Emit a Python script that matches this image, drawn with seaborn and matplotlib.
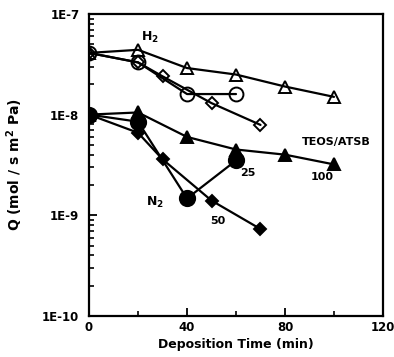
import numpy as np
import pandas as pd
import matplotlib
matplotlib.use("Agg")
import matplotlib.pyplot as plt
import seaborn as sns
from matplotlib.ticker import LogLocator, NullFormatter, FixedLocator

sns.set_style("ticks")
plt.rcParams['font.family'] = ['DejaVu Sans']
plt.rcParams['text.color'] = 'black'
plt.rcParams['axes.labelcolor'] = 'black'
plt.rcParams['xtick.color'] = 'black'
plt.rcParams['ytick.color'] = 'black'
plt.rcParams['axes.edgecolor'] = 'black'

# H2 (open markers)
h2_tri_t = [0, 20, 40, 60, 80, 100]
h2_tri_q = [4.1e-8, 4.4e-8, 2.9e-8, 2.5e-8, 1.9e-8, 1.5e-8]
h2_cir_t = [0, 20, 40, 60]
h2_cir_q = [4.1e-8, 3.3e-8, 1.6e-8, 1.6e-8]
h2_dia_t = [0, 20, 30, 50, 70]
h2_dia_q = [4.1e-8, 3.3e-8, 2.4e-8, 1.3e-8, 7.9e-9]

# N2 (filled markers)
n2_tri_t = [0, 20, 40, 60, 80, 100]
n2_tri_q = [1.0e-8, 1.05e-8, 6.0e-9, 4.5e-9, 4.0e-9, 3.2e-9]
n2_cir_t = [0, 20, 40, 60]
n2_cir_q = [1.0e-8, 8.5e-9, 1.47e-9, 3.5e-9]
n2_dia_t = [0, 20, 30, 50, 70]
n2_dia_q = [1.0e-8, 6.6e-9, 3.6e-9, 1.4e-9, 7.3e-10]

x_ticks = [0, 40, 80, 120]
y_ticks = [1e-10, 1e-9, 1e-8, 1e-7]
y_tick_labels = ["1E-10", "1E-9", "1E-8", "1E-7"]

fig = plt.figure(figsize=(3.94, 3.57), dpi=100)
ax = fig.add_axes([0.226, 0.115, 0.746, 0.846])

series = [
    (h2_tri_t, h2_tri_q, '^', 'none', 8),
    (h2_cir_t, h2_cir_q, 'o', 'none', 10),
    (h2_dia_t, h2_dia_q, 'D', 'none', 6.5),
    (n2_tri_t, n2_tri_q, '^', 'black', 8),
    (n2_cir_t, n2_cir_q, 'o', 'black', 11),
    (n2_dia_t, n2_dia_q, 'D', 'black', 6.5),
]
for t, q, m, fc, ms in series:
    df = pd.DataFrame({"t": t, "q": q})
    sns.lineplot(data=df, x="t", y="q", ax=ax, color="black", linewidth=1.6,
                 marker=m, markersize=ms, markerfacecolor=fc,
                 markeredgecolor="black", markeredgewidth=1.4, sort=False)

ax.set_yscale("log")
ax.set_xlim(0, 120)
ax.set_ylim(1e-10, 1e-7)
ax.xaxis.set_major_locator(FixedLocator(x_ticks))
ax.xaxis.set_minor_locator(FixedLocator([20, 60, 100]))
ax.set_yticks(y_ticks)
ax.set_yticklabels(y_tick_labels)
ax.yaxis.set_minor_locator(LogLocator(base=10, subs=np.arange(2, 10)))
ax.yaxis.set_minor_formatter(NullFormatter())
ax.set_xticklabels([str(v) for v in x_ticks])
ax.tick_params(axis='both', which='major', direction='in', length=6, width=1.3,
               labelsize=8.5)
ax.tick_params(axis='y', which='major', pad=7)
ax.tick_params(axis='both', which='minor', direction='in', length=3.5, width=1.2)
for lab in ax.get_xticklabels() + ax.get_yticklabels():
    lab.set_fontweight('bold')
for s in ax.spines.values():
    s.set_linewidth(1.6)
    s.set_visible(True)

ax.set_xlabel("Deposition Time (min)", fontsize=9, fontweight='bold', labelpad=3)
ax.set_ylabel("Q (mol / s m$^\\mathbf{2}$ Pa)", fontsize=10, fontweight='bold', labelpad=12)

ax.text(25, 5.8e-8, "H$_\\mathbf{2}$", fontsize=9, fontweight='bold', ha='center', va='center')
ax.text(27, 1.35e-9, "N$_\\mathbf{2}$", fontsize=9, fontweight='bold', ha='center', va='center')
ax.text(101, 5.4e-9, "TEOS/ATSB", fontsize=8, fontweight='bold', ha='center', va='center')
ax.text(65, 2.6e-9, "25", fontsize=8, fontweight='bold', ha='center', va='center')
ax.text(95, 2.4e-9, "100", fontsize=8, fontweight='bold', ha='center', va='center')
ax.text(52.5, 8.7e-10, "50", fontsize=8, fontweight='bold', ha='center', va='center')

fig.savefig("out.png", dpi=100)
